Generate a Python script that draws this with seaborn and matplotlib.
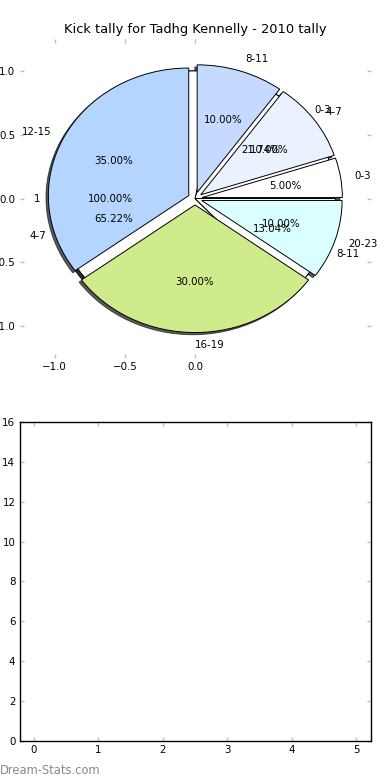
import matplotlib
matplotlib.use("Agg")
import matplotlib.pyplot as plt
import seaborn as sns

# data
title = "Kick tally for Tadhg Kennelly - 2010 tally"

pie1_labels = ["1"]
pie1_values = [1]
pie1_colors = ["#b4d5ff"]

pie2_labels = ["0-3", "4-7", "8-11"]
pie2_values = [5, 15, 3]
pie2_colors = ["#ffffff", "#ffffff", "#ffffff"]

pie3_labels = ["0-3", "4-7", "8-11", "12-15", "16-19", "20-23"]
pie3_values = [1, 2, 2, 7, 6, 2]
pie3_colors = ["#ffffff", "#ebf2ff", "#c6d9ff", "#b4d5ff", "#cfeb8b", "#d9ffff"]

pie_yticks = [-1.0, -0.5, 0.0, 0.5, 1.0]
pie_xticks = [-1.0, -0.5, 0.0]

sns.set_style("white")
plt.rcParams["font.family"] = ["DejaVu Sans"]
plt.rcParams["text.color"] = "black"
plt.rcParams["xtick.labelcolor"] = "black"
plt.rcParams["ytick.labelcolor"] = "black"

fig, (ax1, ax2) = plt.subplots(2, 1, figsize=(3.9, 7.8), dpi=100)
fig.subplots_adjust(left=0.05, right=0.95, bottom=0.05, top=0.95, hspace=0.2)

txt = {"fontsize": 7.4, "color": "black"}
wp = {"edgecolor": "black", "linewidth": 0.7}
shad = {"ox": -0.012, "oy": -0.012, "shade": 0.9, "alpha": 0.7}

# three pies stacked on the same axes
ax1.pie(pie1_values, labels=pie1_labels, colors=pie1_colors, autopct="%1.2f%%",
        shadow=shad, textprops=txt, wedgeprops=wp)
ax1.pie(pie2_values, labels=pie2_labels, colors=pie2_colors, autopct="%1.2f%%",
        shadow=shad, textprops=txt, wedgeprops=wp)
_, lbls, _ = ax1.pie(pie3_values, labels=pie3_labels, colors=pie3_colors,
                     autopct="%1.2f%%", explode=[0.05] * len(pie3_values),
                     shadow=shad, textprops=txt, wedgeprops=wp)
lbls[4].set_ha("left")

ax1.set_aspect("auto")
ax1.set_xlim(-1.25, 1.25)
ax1.set_ylim(-1.25, 1.25)
ax1.set_xticks(pie_xticks)
ax1.set_yticks(pie_yticks)
ax1.set_frame_on(False)
ax1.set_title(title, fontsize=9.4, color="black", pad=4)

# empty second panel
ax2.set_xlim(-0.22, 5.22)
ax2.set_ylim(0, 16)
ax2.set_xticks(range(0, 6))
ax2.set_yticks(range(0, 17, 2))
for s in ax2.spines.values():
    s.set_color("black")
    s.set_linewidth(1.0)

for ax in (ax1, ax2):
    ax.tick_params(direction="in", length=3, width=1, color="0.75",
                   labelsize=7.4, pad=3, top=True, right=True, bottom=True, left=True)

fig.text(0.0, 0.012, "Dream-Stats.com", fontsize=8.3, color="#888888",
         ha="left", va="center")

fig.savefig("out.png", dpi=100)
